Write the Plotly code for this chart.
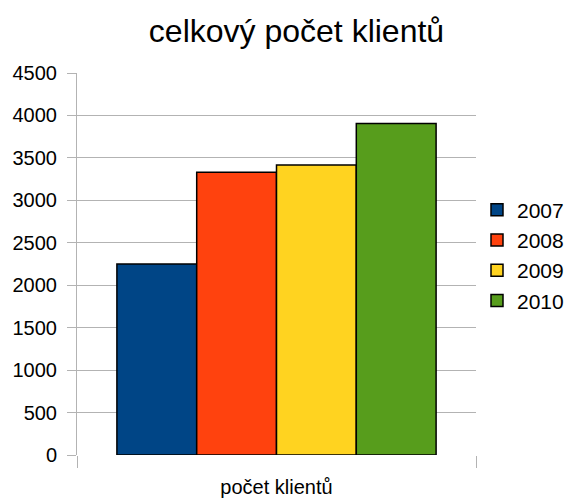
import plotly.graph_objects as go

category = ["počet klientů"]
years = ["2007", "2008", "2009", "2010"]
values = [2250, 3330, 3415, 3905]
colors = ["#004586", "#ff420e", "#ffd320", "#579d1c"]

fig = go.Figure()
for yr, v, c in zip(years, values, colors):
    fig.add_trace(go.Bar(x=category, y=[v], name=yr, marker=dict(color=c, line=dict(color="#000000", width=1.5))))

FONT = "Liberation Sans, Arial, sans-serif"
fig.update_layout(
    width=571, height=499,
    margin=dict(l=77, r=95, t=73, b=44, autoexpand=False),
    paper_bgcolor="white", plot_bgcolor="white",
    barmode="group", bargap=0.2, bargroupgap=0,
    font=dict(family=FONT, color="#000000", size=20),
    title=dict(text="celkový počet klientů", font=dict(size=32, family=FONT, color="#000"),
               x=296.5/571, xanchor="center", xref="container",
               y=1-31/499, yanchor="middle", yref="container"),
    legend=dict(x=477/571, y=1-255.5/499, xanchor="left", yanchor="middle", xref="container", yref="container",
                font=dict(size=21), bgcolor="rgba(0,0,0,0)", borderwidth=0),
    showlegend=True,
)
fig.update_yaxes(range=[0, 4500], dtick=500, showgrid=True, gridcolor="#b3b3b3", gridwidth=1,
                 ticks="outside", ticklen=9, tickcolor="#b3b3b3", showline=True, linecolor="#b3b3b3",
                 zeroline=False, tickfont=dict(size=20), ticklabelstandoff=6, automargin=False)
fig.update_xaxes(tickson="boundaries", showgrid=True, gridcolor="#b3b3b3", ticks="outside", ticklen=12,
                 tickcolor="#b3b3b3", showline=False, tickfont=dict(size=20), automargin=False,
                 ticklabelstandoff=18)
fig.write_html("out.html", config={"displayModeBar": False},
               post_script="document.body.style.margin='0';")
